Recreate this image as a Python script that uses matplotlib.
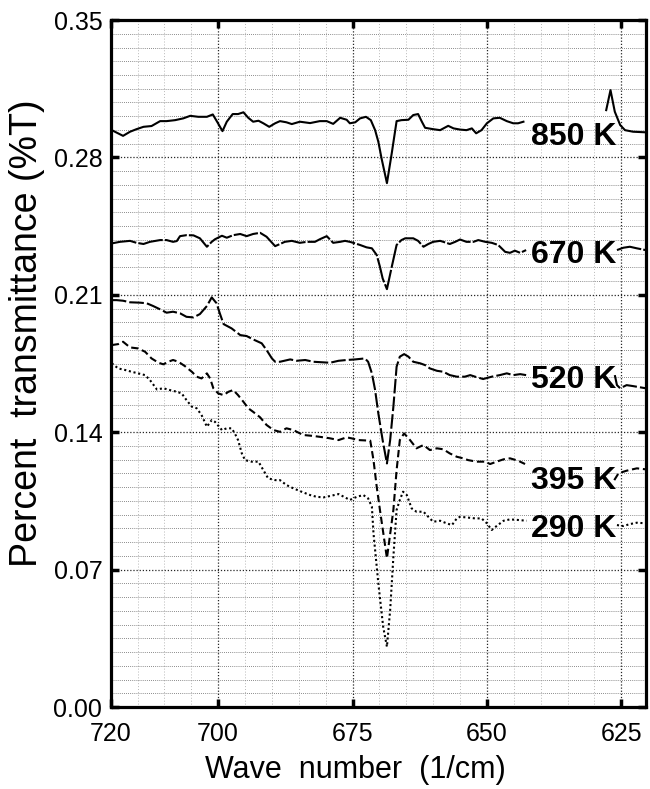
import numpy as np
import matplotlib
matplotlib.use('Agg')
import matplotlib.pyplot as plt
from matplotlib.ticker import MultipleLocator

plt.rcParams['font.family'] = ['Liberation Sans', 'DejaVu Sans']

nan = np.nan

# spectra (wave number in 1/cm, transmittance)
x_850 = [719.8, 717.7, 716.4, 715.2, 713.9, 712.4, 710.8, 709.6, 708.0, 706.5, 705.2, 703.7, 702.1, 701.0,
         700.2, 699.2, 698.4, 697.3, 696.3, 695.3, 694.4, 693.5, 692.5, 691.6, 690.5, 689.4, 688.5, 687.3,
         686.3, 684.8, 682.9, 681.1, 679.8, 678.6, 677.3, 676.1, 675.5, 674.5, 673.6, 672.5, 671.6, 670.8,
         670.2, 669.6, 668.6, 667.7, 666.8, 665.9, 664.6, 663.7, 662.8, 662.1, 661.5, 660.0, 658.7, 657.2,
         656.2, 655.0, 653.8, 652.8, 652.0, 651.0, 650.0, 648.8, 647.6, 646.3, 645.1, 644.2, 643.2,
         nan, 627.8, 627.0, 626.2, 625.2, 624.3, 622.8, 620.45]
y_850 = [0.2939, 0.2910, 0.2931, 0.2944, 0.2956, 0.2960, 0.2985, 0.2985, 0.2990, 0.2999, 0.3012, 0.3007,
         0.3007, 0.3019, 0.2982, 0.2934, 0.2982, 0.3021, 0.3021, 0.3030, 0.3002, 0.2982, 0.2987, 0.2974,
         0.2956, 0.2974, 0.2985, 0.2979, 0.2970, 0.2982, 0.2975, 0.2985, 0.2985, 0.2971, 0.3002, 0.2992,
         0.2974, 0.2979, 0.2999, 0.3007, 0.2990, 0.2939, 0.2880, 0.2795, 0.2669, 0.2822, 0.2985, 0.2990,
         0.2992, 0.3016, 0.3021, 0.2982, 0.2951, 0.2944, 0.2939, 0.2961, 0.2948, 0.2942, 0.2939, 0.2948,
         0.2923, 0.2939, 0.2974, 0.2999, 0.3002, 0.2985, 0.2974, 0.2974, 0.2982,
         nan, 0.3041, 0.3143, 0.3033, 0.2965, 0.2939, 0.2931, 0.2928]

x_670 = [719.8, 718.3, 716.4, 715.2, 713.9, 712.7, 710.8, 709.6, 708.4, 707.7, 707.1, 705.9, 704.6, 703.4,
         702.1, 701.2, 700.6, 699.3, 698.4, 697.2, 695.9, 694.7, 693.5, 692.2, 691.0, 689.4, 688.5, 687.6,
         686.3, 684.8, 683.5, 682.0, 681.1, 679.8, 678.6, 677.3, 676.4, 675.5, 674.5, 673.6, 672.4, 671.4,
         670.5, 669.9, 669.4, 668.6, 667.7, 666.8, 665.9, 665.2, 663.7, 662.8, 661.8, 660.9, 660.0, 658.7,
         658.1, 656.9, 655.9, 655.0, 653.8, 652.5, 651.6, 650.3, 649.1, 647.9, 646.6, 645.7, 644.8, 643.8,
         642.7, nan, 625.8, 624.6, 623.4, 622.1, 620.45]
y_670 = [0.2362, 0.2370, 0.2375, 0.2365, 0.2359, 0.2370, 0.2379, 0.2379, 0.2370, 0.2374, 0.2399, 0.2404,
         0.2403, 0.2388, 0.2345, 0.2370, 0.2383, 0.2401, 0.2391, 0.2404, 0.2410, 0.2399, 0.2410, 0.2416,
         0.2396, 0.2348, 0.2359, 0.2370, 0.2375, 0.2365, 0.2370, 0.2370, 0.2383, 0.2399, 0.2365, 0.2370,
         0.2375, 0.2370, 0.2362, 0.2354, 0.2342, 0.2337, 0.2303, 0.2243, 0.2184, 0.2129, 0.2243, 0.2354,
         0.2379, 0.2388, 0.2388, 0.2375, 0.2345, 0.2359, 0.2370, 0.2375, 0.2370, 0.2359, 0.2370, 0.2382,
         0.2370, 0.2370, 0.2379, 0.2370, 0.2365, 0.2354, 0.2319, 0.2314, 0.2325, 0.2314, 0.2328,
         nan, 0.2328, 0.2340, 0.2345, 0.2337, 0.2328]

x_520 = [719.8, 718.9, 717.7, 716.4, 714.5, 713.3, 712.1, 710.8, 709.6, 708.4, 707.1, 705.9, 704.6, 703.4,
         702.1, 701.2, 700.3, 699.7, 699.0, 697.5, 695.9, 694.7, 693.5, 691.9, 691.0, 690.0, 689.4, 688.5,
         686.6, 685.4, 683.8, 682.3, 680.4, 679.2, 677.6, 676.1, 674.5, 672.7, 672.1, 671.4, 670.8, 670.2,
         669.4, 668.6, 668.0, 667.4, 666.8, 666.2, 665.4, 664.6, 663.7, 662.4, 661.5, 660.6, 659.3, 658.1,
         656.9, 655.6, 654.1, 653.1, 652.2, 650.7, 649.1, 647.6, 646.3, 645.1, 643.8, 642.7,
         nan, 626.2, 625.8, 625.2, 624.0, 622.8, 620.45]
y_520 = [0.2073, 0.2073, 0.2070, 0.2062, 0.2060, 0.2057, 0.2043, 0.2026, 0.2009, 0.2014, 0.2006, 0.1988,
         0.1985, 0.2002, 0.2043, 0.2087, 0.2057, 0.2006, 0.1951, 0.1929, 0.1895, 0.1890, 0.1873, 0.1853,
         0.1819, 0.1776, 0.1759, 0.1759, 0.1771, 0.1764, 0.1768, 0.1759, 0.1756, 0.1754, 0.1764, 0.1768,
         0.1771, 0.1776, 0.1759, 0.1700, 0.1615, 0.1496, 0.1360, 0.1241, 0.1360, 0.1530, 0.1734, 0.1785,
         0.1798, 0.1785, 0.1759, 0.1751, 0.1742, 0.1725, 0.1713, 0.1708, 0.1691, 0.1683, 0.1683, 0.1691,
         0.1683, 0.1671, 0.1683, 0.1691, 0.1700, 0.1691, 0.1696, 0.1691,
         nan, 0.1691, 0.1640, 0.1624, 0.1640, 0.1635, 0.1624]

x_395 = [719.8, 718.6, 717.7, 716.4, 714.9, 713.6, 712.4, 711.1, 710.2, 709.3, 708.4, 707.4, 706.2, 704.9,
         704.0, 703.1, 702.1, 701.5, 700.9, 700.0, 699.0, 698.1, 697.2, 696.3, 695.3, 694.4, 693.5, 692.2,
         691.0, 689.7, 688.5, 687.3, 686.0, 684.2, 682.3, 680.4, 679.2, 677.6, 676.1, 675.2, 673.9, 671.7,
         671.1, 670.5, 669.9, 668.6, 667.4, 666.8, 666.2, 665.4, 664.3, 663.1, 661.8, 660.6, 659.3, 658.1,
         656.9, 655.6, 654.4, 653.5, 651.9, 650.3, 649.4, 648.2, 646.9, 645.7, 644.2, 642.9,
         nan, 626.3, 625.5, 624.0, 622.1, 620.45]
y_395 = [0.1844, 0.1849, 0.1861, 0.1832, 0.1827, 0.1810, 0.1776, 0.1754, 0.1746, 0.1759, 0.1768, 0.1759,
         0.1737, 0.1708, 0.1683, 0.1674, 0.1700, 0.1674, 0.1624, 0.1598, 0.1589, 0.1606, 0.1615, 0.1589,
         0.1555, 0.1522, 0.1504, 0.1476, 0.1437, 0.1411, 0.1402, 0.1420, 0.1411, 0.1386, 0.1381, 0.1374,
         0.1369, 0.1360, 0.1374, 0.1369, 0.1360, 0.1357, 0.1258, 0.1122, 0.1004, 0.0758, 0.1004, 0.1207,
         0.1360, 0.1394, 0.1360, 0.1318, 0.1335, 0.1309, 0.1318, 0.1313, 0.1292, 0.1275, 0.1267, 0.1258,
         0.1250, 0.1250, 0.1238, 0.1250, 0.1262, 0.1267, 0.1255, 0.1238,
         nan, 0.1156, 0.1191, 0.1204, 0.1216, 0.1211]

x_290 = [719.8, 718.6, 717.3, 716.1, 714.9, 713.6, 712.7, 711.4, 710.2, 709.0, 707.7, 706.8, 705.9, 704.9,
         704.0, 703.1, 702.1, 701.2, 700.6, 699.3, 698.4, 697.5, 696.9, 696.3, 695.6, 695.0, 693.8, 692.5,
         691.6, 690.7, 689.4, 688.5, 687.3, 686.0, 684.5, 682.9, 681.7, 680.4, 679.2, 677.6, 676.4, 675.5,
         674.2, 673.0, 672.1, 671.4, 671.1, 670.2, 669.3, 668.6, 668.0, 667.4, 666.8, 666.2, 665.6, 664.9,
         664.0, 663.1, 661.8, 660.9, 660.0, 658.7, 657.5, 656.5, 655.6, 655.0, 653.8, 652.2, 651.0, 650.0,
         649.1, 648.2, 646.9, 645.7, 644.2, 642.6,
         nan, 625.8, 624.6, 623.4, 622.1, 620.45]
y_290 = [0.1751, 0.1725, 0.1717, 0.1708, 0.1700, 0.1691, 0.1666, 0.1618, 0.1624, 0.1615, 0.1606, 0.1598,
         0.1564, 0.1530, 0.1522, 0.1488, 0.1428, 0.1462, 0.1453, 0.1411, 0.1420, 0.1420, 0.1394, 0.1360,
         0.1292, 0.1258, 0.1250, 0.1250, 0.1207, 0.1165, 0.1156, 0.1156, 0.1131, 0.1114, 0.1097, 0.1080,
         0.1071, 0.1068, 0.1075, 0.1085, 0.1068, 0.1055, 0.1071, 0.1080, 0.1063, 0.1020, 0.0885, 0.0630,
         0.0409, 0.0307, 0.0494, 0.0766, 0.1004, 0.1055, 0.1097, 0.1080, 0.1012, 0.0995, 0.0995, 0.0969,
         0.0944, 0.0949, 0.0936, 0.0927, 0.0961, 0.0969, 0.0966, 0.0961, 0.0961, 0.0936, 0.0902, 0.0922,
         0.0949, 0.0956, 0.0953, 0.0949,
         nan, 0.0927, 0.0922, 0.0932, 0.0939, 0.0936]

labels = ['850 K', '670 K', '520 K', '395 K', '290 K']
label_y = [0.2863, 0.2260, 0.1624, 0.1109, 0.0868]
label_x = 641.8

x_ticks = [720, 700, 675, 650, 625]
x_ticklabels = ['720', '700', '675', '650', '625']
y_ticks = [0.00, 0.07, 0.14, 0.21, 0.28, 0.35]

fig = plt.figure(figsize=(6.5, 7.89), dpi=100)
ax = fig.add_axes([0.1703, 0.1039, 0.8235, 0.8707])

lw = 1.5
ax.plot(x_850, y_850, color='black', lw=lw, ls='-')
ax.plot(x_670, y_670, color='black', lw=lw, ls=(0, (12, 1)))
ax.plot(x_520, y_520, color='black', lw=lw, ls=(0, (7, 1.5)))
ax.plot(x_395, y_395, color='black', lw=lw, ls=(0, (3.5, 1.8)))
ax.plot(x_290, y_290, color='black', lw=lw, ls=(0, (1, 1.3)))

for lab, ly in zip(labels, label_y):
    ax.text(label_x, ly, lab, fontsize=23, fontweight='bold', ha='left', va='baseline')

ax.set_xlim(720, 620.4)
ax.set_ylim(0, 0.35)
ax.set_xticks(x_ticks)
ax.set_xticklabels(x_ticklabels)
ax.set_yticks(y_ticks)
ax.set_yticklabels(['%.2f' % v for v in y_ticks])
ax.xaxis.set_minor_locator(MultipleLocator(5))
ax.yaxis.set_minor_locator(MultipleLocator(0.007))

ax.grid(which='minor', axis='x', color='0.72', ls=(0, (1, 2)), lw=0.7)
ax.grid(which='minor', axis='y', color='0.4', ls=(0, (1, 1.5)), lw=0.6)
ax.grid(which='major', color='0.15', ls=(0, (1, 1.5)), lw=0.9)

ax.tick_params(which='major', direction='in', length=6, width=2.5,
               top=True, right=True, labelsize=18, pad=6)
ax.tick_params(axis='x', which='major', pad=11)
ax.tick_params(which='minor', length=0)
for s in ax.spines.values():
    s.set_linewidth(2.3)

ax.set_xlabel('Wave  number  (1/cm)', fontsize=22)
ax.set_ylabel('Percent  transmittance (%T)', fontsize=27)
ax.xaxis.set_label_coords(0.458, -0.070)
ax.yaxis.set_label_coords(-0.123, 0.544)

fig.savefig('out.png', dpi=100)
